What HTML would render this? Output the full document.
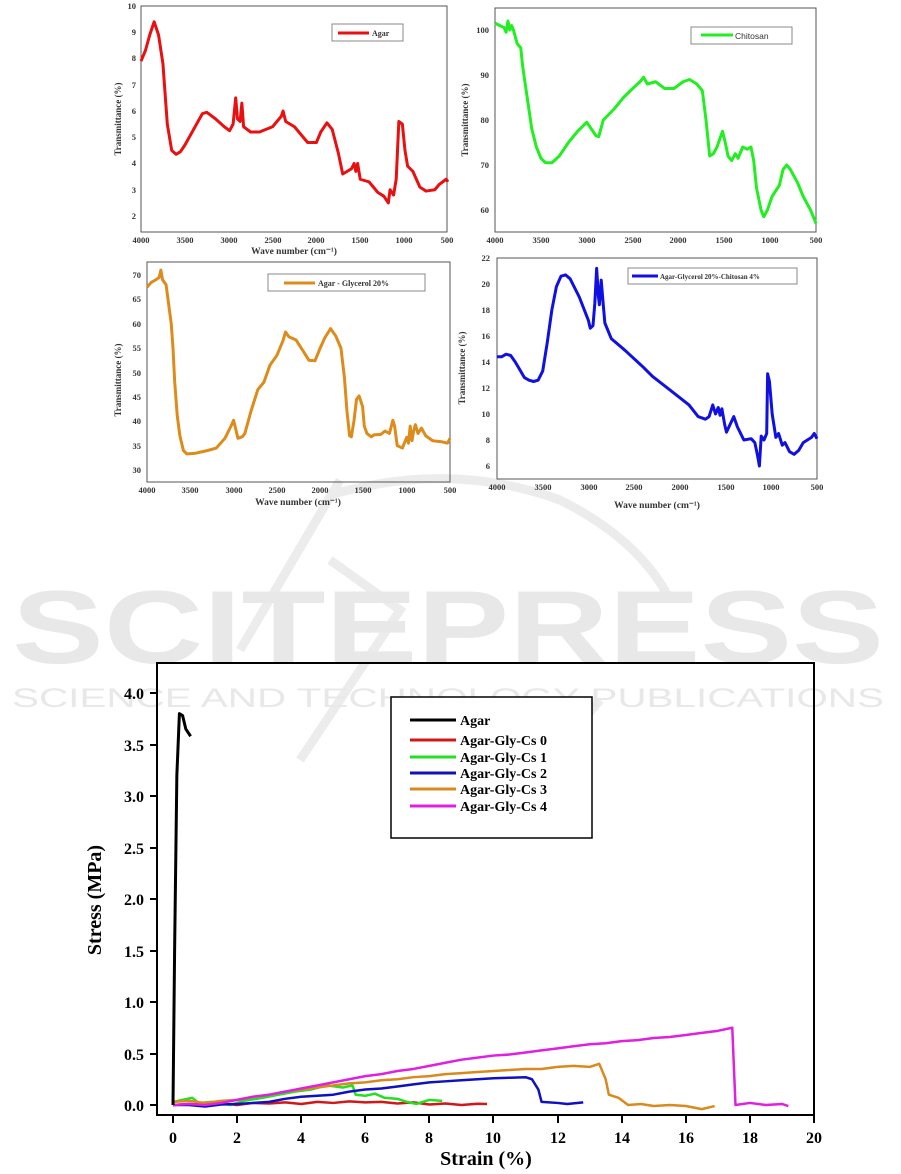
<!DOCTYPE html>
<html><head><meta charset="utf-8"><style>
html,body{margin:0;padding:0;background:#fff;}
svg{display:block;}
text{font-family:"Liberation Serif",serif;font-weight:bold;}
.s{font-family:"Liberation Sans",sans-serif;font-weight:normal;}
.c{fill:none;stroke-linejoin:round;}
</style></head><body>
<svg width="901" height="1174" viewBox="0 0 901 1174" xmlns="http://www.w3.org/2000/svg">
<!-- watermark -->
<g fill="none" stroke="#ececec" stroke-width="9">
<path d="M330 495 Q450 460 560 500 Q640 540 670 600"/>
<path d="M240 650 L340 480"/>
<path d="M300 760 L400 610 L330 560"/>
<path d="M420 760 Q520 800 600 700"/>
</g>
<text x="12" y="663" font-size="104" class="s" fill="#e8e8e8" textLength="872" lengthAdjust="spacingAndGlyphs" style="font-weight:bold">SCITEPRESS</text>
<text x="12" y="707" font-size="27" class="s" fill="#e8e8e8" textLength="872" lengthAdjust="spacingAndGlyphs">SCIENCE AND TECHNOLOGY PUBLICATIONS</text>

<!-- Panel 1 Agar -->
<rect x="141" y="6" width="306" height="226" fill="none" stroke="#555" stroke-width="1"/>
<g font-size="8.5" fill="#333" text-anchor="end">
<text x="136" y="9">10</text><text x="136" y="35">9</text><text x="136" y="61">8</text><text x="136" y="88">7</text><text x="136" y="114">6</text><text x="136" y="140">5</text><text x="136" y="166">4</text><text x="136" y="193">3</text><text x="136" y="219">2</text>
</g>
<g font-size="8.5" fill="#333" text-anchor="middle">
<text x="141" y="243">4000</text><text x="185" y="243">3500</text><text x="229" y="243">3000</text><text x="273" y="243">2500</text><text x="316" y="243">2000</text><text x="360" y="243">1500</text><text x="404" y="243">1000</text><text x="447" y="243">500</text>
</g>
<text x="294" y="254" font-size="9.5" fill="#333" text-anchor="middle">Wave number (cm⁻¹)</text>
<text transform="translate(121,119) rotate(-90)" font-size="9" fill="#333" text-anchor="middle">Transmittance (%)</text>
<rect x="332" y="24" width="71" height="17" fill="#fff" stroke="#888"/>
<line x1="338" y1="33" x2="369" y2="33" stroke="#e81010" stroke-width="3"/>
<text x="372" y="36" font-size="8" fill="#333">Agar</text>
<g transform="matrix(-0.0877,0,0,-26.25,491.8,268.5)">
<polyline class="c" stroke="#e81010" stroke-width="3" vector-effect="non-scaling-stroke" points="4000,7.9 3950,8.3 3900,8.9 3850,9.4 3800,8.9 3750,7.8 3700,5.5 3650,4.5 3600,4.35 3550,4.45 3500,4.7 3400,5.3 3300,5.9 3250,5.95 3150,5.7 3050,5.4 2990,5.25 2950,5.5 2920,6.5 2900,5.7 2870,5.6 2850,6.3 2830,5.4 2750,5.2 2650,5.2 2500,5.4 2400,5.8 2380,6.0 2350,5.6 2250,5.4 2100,4.8 2000,4.8 1950,5.2 1880,5.55 1820,5.3 1750,4.4 1700,3.6 1650,3.7 1600,3.8 1570,4.0 1550,3.7 1530,4.0 1500,3.4 1400,3.3 1300,2.9 1230,2.75 1180,2.5 1160,3.0 1120,2.8 1090,3.4 1060,5.6 1020,5.5 990,4.5 960,3.9 900,3.7 820,3.1 750,2.95 650,3.0 600,3.2 520,3.4 500,3.3"/>
</g>

<!-- Panel 2 Chitosan -->
<rect x="495" y="8" width="321" height="224" fill="none" stroke="#555" stroke-width="1"/>
<g font-size="8.5" fill="#333" text-anchor="end">
<text x="489" y="33">100</text><text x="489" y="78">90</text><text x="489" y="123">80</text><text x="489" y="168">70</text><text x="489" y="213">60</text>
</g>
<g font-size="8.5" fill="#333" text-anchor="middle">
<text x="495" y="243">4000</text><text x="541" y="243">3500</text><text x="587" y="243">3000</text><text x="633" y="243">2500</text><text x="678" y="243">2000</text><text x="724" y="243">1500</text><text x="770" y="243">1000</text><text x="816" y="243">500</text>
</g>
<text transform="translate(468,120) rotate(-90)" font-size="9" fill="#333" text-anchor="middle">Transmittance (%)</text>
<rect x="691" y="27" width="101" height="17" fill="#fff" stroke="#888"/>
<line x1="701" y1="35" x2="733" y2="35" stroke="#22ee22" stroke-width="3"/>
<text x="735" y="39" font-size="8.5" class="s" fill="#333">Chitosan</text>
<g transform="matrix(-0.0917,0,0,-4.5,861.9,480)">
<polyline class="c" stroke="#22ee22" stroke-width="3" vector-effect="non-scaling-stroke" points="4000,101.5 3950,101 3900,100.5 3880,99.5 3860,102 3840,100 3820,101 3800,100 3760,97 3720,96 3700,92 3650,85 3600,78 3550,74 3500,71.5 3450,70.5 3380,70.5 3300,72 3200,75 3100,77.5 3000,79.5 2950,78 2900,76.5 2870,76.3 2820,80 2700,82.5 2600,85 2500,87 2420,88.5 2380,89.5 2340,88 2250,88.5 2150,87 2050,87 1950,88.5 1880,89 1800,88 1740,86.5 1700,80 1660,72 1620,72.5 1580,74 1520,77.5 1490,75 1460,72 1420,71 1380,72.5 1350,71.5 1300,74 1250,73.5 1210,74 1180,71 1150,65 1100,60 1070,58.5 1030,60 980,63 900,65.5 860,69 820,70 780,69 700,66 640,63 560,60 500,57"/>
</g>

<!-- Panel 3 Agar-Glycerol -->
<rect x="147" y="262" width="303" height="220" fill="none" stroke="#555" stroke-width="1"/>
<g font-size="8.5" fill="#333" text-anchor="end">
<text x="141" y="278">70</text><text x="141" y="302">65</text><text x="141" y="327">60</text><text x="141" y="351">55</text><text x="141" y="376">50</text><text x="141" y="400">45</text><text x="141" y="424">40</text><text x="141" y="449">35</text><text x="141" y="473">30</text>
</g>
<g font-size="8.5" fill="#333" text-anchor="middle">
<text x="147" y="493">4000</text><text x="190" y="493">3500</text><text x="234" y="493">3000</text><text x="277" y="493">2500</text><text x="320" y="493">2000</text><text x="363" y="493">1500</text><text x="407" y="493">1000</text><text x="450" y="493">500</text>
</g>
<text x="298" y="505" font-size="9.5" fill="#333" text-anchor="middle">Wave number (cm⁻¹)</text>
<text transform="translate(121,380) rotate(-90)" font-size="9" fill="#333" text-anchor="middle">Transmittance (%)</text>
<rect x="268" y="274" width="157" height="17" fill="#fff" stroke="#888"/>
<line x1="284" y1="283" x2="315" y2="283" stroke="#dd8c1c" stroke-width="3"/>
<text x="318" y="286" font-size="8" fill="#333">Agar - Glycerol 20%</text>
<g transform="matrix(-0.08657,0,0,-4.875,493.3,616.25)">
<polyline class="c" stroke="#dd8c1c" stroke-width="3" vector-effect="non-scaling-stroke" points="4000,67.5 3950,68.5 3900,69 3860,69.5 3840,71 3820,69 3780,68 3750,64 3720,60 3700,55 3680,48 3650,41 3620,37 3580,34 3540,33.3 3450,33.4 3300,34 3200,34.5 3100,36.5 3030,39 3000,40.2 2970,38 2950,36.5 2900,36.8 2870,37.5 2800,42 2720,46.5 2650,48 2580,51.5 2500,53.5 2430,56.5 2400,58.3 2360,57.3 2280,56.7 2200,54.5 2130,52.5 2060,52.4 2000,55 1950,57 1880,59 1820,57.5 1760,55 1720,49 1690,42 1660,37 1640,36.8 1610,40 1580,44.5 1550,45.2 1510,43 1490,39 1460,37.5 1410,36.8 1380,37.2 1300,37.3 1250,38 1200,37.5 1160,40.2 1140,39 1110,35 1050,34.5 1000,36.7 980,35.5 960,39 940,36 920,38 900,39.3 870,37.5 830,38.6 780,37 700,36 600,35.8 530,35.5 500,36.5"/>
</g>

<!-- Panel 4 Agar-Gly-Chitosan -->
<rect x="497" y="258" width="320" height="221" fill="none" stroke="#555" stroke-width="1"/>
<g font-size="8.5" fill="#333" text-anchor="end">
<text x="490" y="261">22</text><text x="490" y="287">20</text><text x="490" y="313">18</text><text x="490" y="339">16</text><text x="490" y="365">14</text><text x="490" y="391">12</text><text x="490" y="417">10</text><text x="490" y="443">8</text><text x="490" y="469">6</text>
</g>
<g font-size="8.5" fill="#333" text-anchor="middle">
<text x="497" y="490">4000</text><text x="543" y="490">3500</text><text x="589" y="490">3000</text><text x="634" y="490">2500</text><text x="680" y="490">2000</text><text x="726" y="490">1500</text><text x="771" y="490">1000</text><text x="817" y="490">500</text>
</g>
<text x="657" y="508" font-size="9.5" fill="#333" text-anchor="middle">Wave number (cm⁻¹)</text>
<text transform="translate(465,368) rotate(-90)" font-size="9" fill="#333" text-anchor="middle">Transmittance (%)</text>
<rect x="628" y="268" width="169" height="16" fill="#fff" stroke="#888"/>
<line x1="632" y1="276" x2="658" y2="276" stroke="#1010e0" stroke-width="3"/>
<text x="660" y="279" font-size="7" fill="#333">Agar-Glycerol 20%-Chitosan 4%</text>
<g transform="matrix(-0.09143,0,0,-13,862.7,544)">
<polyline class="c" stroke="#1010e0" stroke-width="3" vector-effect="non-scaling-stroke" points="4000,14.4 3950,14.4 3900,14.6 3850,14.5 3800,14 3750,13.4 3700,12.8 3650,12.6 3600,12.5 3550,12.6 3500,13.3 3450,15.5 3400,18 3350,19.8 3300,20.6 3250,20.7 3200,20.4 3100,19 3000,17.2 2980,16.6 2950,16.8 2930,18.5 2910,21.2 2890,19 2880,18.4 2860,20.3 2840,18.6 2820,17 2750,15.8 2600,14.9 2400,13.6 2300,12.9 2100,11.8 1900,10.7 1800,9.8 1720,9.6 1680,9.8 1640,10.7 1610,10 1580,10.5 1560,9.9 1540,10.4 1510,9.2 1490,8.6 1450,9.2 1410,9.8 1370,9 1300,8 1220,8.1 1180,7.8 1150,6.8 1130,6.0 1110,8.3 1080,8 1050,8.5 1040,13.1 1020,12.5 990,10 950,8.2 920,8.5 880,7.6 850,7.8 800,7.1 750,6.9 700,7.2 650,7.8 560,8.2 530,8.5 500,8.1"/>
</g>

<!-- Bottom stress-strain chart -->
<rect x="157" y="663" width="657" height="452" fill="none" stroke="#000" stroke-width="2"/>
<g stroke="#000" stroke-width="2">
<line x1="150" y1="693" x2="157" y2="693"/><line x1="150" y1="745" x2="157" y2="745"/><line x1="150" y1="796" x2="157" y2="796"/><line x1="150" y1="848" x2="157" y2="848"/><line x1="150" y1="899" x2="157" y2="899"/><line x1="150" y1="951" x2="157" y2="951"/><line x1="150" y1="1002" x2="157" y2="1002"/><line x1="150" y1="1054" x2="157" y2="1054"/><line x1="150" y1="1105" x2="157" y2="1105"/>
<line x1="173" y1="1115" x2="173" y2="1123"/><line x1="237" y1="1115" x2="237" y2="1123"/><line x1="301" y1="1115" x2="301" y2="1123"/><line x1="365" y1="1115" x2="365" y2="1123"/><line x1="429" y1="1115" x2="429" y2="1123"/><line x1="493" y1="1115" x2="493" y2="1123"/><line x1="558" y1="1115" x2="558" y2="1123"/><line x1="622" y1="1115" x2="622" y2="1123"/><line x1="686" y1="1115" x2="686" y2="1123"/><line x1="750" y1="1115" x2="750" y2="1123"/><line x1="814" y1="1115" x2="814" y2="1123"/>
</g>
<g font-size="16" fill="#000" text-anchor="end">
<text x="144" y="699">4.0</text><text x="144" y="751">3.5</text><text x="144" y="802">3.0</text><text x="144" y="854">2.5</text><text x="144" y="905">2.0</text><text x="144" y="957">1.5</text><text x="144" y="1008">1.0</text><text x="144" y="1060">0.5</text><text x="144" y="1111">0.0</text>
</g>
<g font-size="16" fill="#000" text-anchor="middle">
<text x="173" y="1143">0</text><text x="237" y="1143">2</text><text x="301" y="1143">4</text><text x="365" y="1143">6</text><text x="429" y="1143">8</text><text x="493" y="1143">10</text><text x="558" y="1143">12</text><text x="622" y="1143">14</text><text x="686" y="1143">16</text><text x="750" y="1143">18</text><text x="814" y="1143">20</text>
</g>
<text x="486" y="1165" font-size="20" fill="#000" text-anchor="middle">Strain (%)</text>
<text transform="translate(101,900) rotate(-90)" font-size="20" fill="#000" text-anchor="middle">Stress (MPa)</text>
<g transform="matrix(32.05,0,0,-103,173,1105)">
<polyline class="c" stroke="#d01818" stroke-width="2.5" vector-effect="non-scaling-stroke" points="0,0 0.5,0.01 1,0.005 1.5,0.015 2,0 2.5,0.02 3,0.015 3.5,0.025 4,0.01 4.5,0.03 5,0.02 5.5,0.035 6,0.025 6.5,0.03 7,0.015 7.5,0.025 8,0.005 8.5,0.015 9,0 9.5,0.012 9.8,0.01"/>
<polyline class="c" stroke="#22e022" stroke-width="2.5" vector-effect="non-scaling-stroke" points="0,0.03 0.3,0.05 0.6,0.07 0.8,0.02 1.2,0.03 1.8,0 2.2,0.04 2.8,0.07 3.3,0.1 3.8,0.13 4.3,0.15 4.8,0.19 5.3,0.17 5.6,0.19 5.7,0.1 6,0.09 6.3,0.11 6.6,0.07 7,0.06 7.3,0.03 7.6,0.01 8,0.05 8.4,0.04"/>
<polyline class="c" stroke="#1010c0" stroke-width="2.5" vector-effect="non-scaling-stroke" points="0,0 0.5,0 1,-0.015 1.5,0.005 2,0.01 2.5,0.02 3,0.03 3.5,0.06 4,0.08 4.5,0.09 5,0.1 5.5,0.13 6,0.15 6.5,0.16 7,0.18 7.5,0.2 8,0.22 8.5,0.23 9,0.24 9.5,0.25 10,0.26 10.5,0.265 11,0.27 11.2,0.25 11.4,0.15 11.5,0.03 12,0.02 12.3,0.01 12.8,0.025"/>
<polyline class="c" stroke="#d98a1e" stroke-width="2.5" vector-effect="non-scaling-stroke" points="0,0.03 0.5,0.04 1,0.02 1.5,0.04 2,0.05 2.5,0.08 3,0.1 3.5,0.13 4,0.15 4.5,0.17 5,0.19 5.5,0.21 6,0.22 6.5,0.24 7,0.25 7.5,0.27 8,0.28 8.5,0.3 9,0.31 9.5,0.32 10,0.33 10.5,0.34 11,0.35 11.5,0.35 12,0.37 12.5,0.38 13,0.37 13.3,0.4 13.5,0.25 13.6,0.1 13.9,0.07 14.2,0 14.6,0.01 15,-0.01 15.5,0 16,-0.01 16.5,-0.04 16.9,-0.01"/>
<polyline class="c" stroke="#e020e0" stroke-width="2.5" vector-effect="non-scaling-stroke" points="0,0 0.5,0.01 1,0 1.5,0.02 2,0.05 2.5,0.08 3,0.1 3.5,0.13 4,0.16 4.5,0.19 5,0.22 5.5,0.25 6,0.28 6.5,0.3 7,0.33 7.5,0.35 8,0.38 8.5,0.41 9,0.44 9.5,0.46 10,0.48 10.5,0.49 11,0.51 11.5,0.53 12,0.55 12.5,0.57 13,0.59 13.5,0.6 14,0.62 14.5,0.63 15,0.65 15.5,0.66 16,0.68 16.5,0.7 17,0.72 17.45,0.75 17.55,0 18,0.02 18.5,0 19,0.01 19.2,-0.01"/>
<polyline class="c" stroke="#000" stroke-width="3" vector-effect="non-scaling-stroke" points="0,0 0.05,1.5 0.12,3.2 0.2,3.8 0.3,3.78 0.4,3.65 0.55,3.58"/>
</g>
<!-- legend -->
<rect x="391" y="697" width="201" height="141" fill="#fff" stroke="#000" stroke-width="1.5"/>
<g stroke-width="3">
<line x1="410" y1="720" x2="456" y2="720" stroke="#000"/>
<line x1="410" y1="740" x2="456" y2="740" stroke="#d01818"/>
<line x1="410" y1="757" x2="456" y2="757" stroke="#22e022"/>
<line x1="410" y1="773" x2="456" y2="773" stroke="#1010c0"/>
<line x1="410" y1="789" x2="456" y2="789" stroke="#d98a1e"/>
<line x1="410" y1="806" x2="456" y2="806" stroke="#e020e0"/>
</g>
<g font-size="14" fill="#000">
<text x="460" y="725">Agar</text>
<text x="460" y="745">Agar-Gly-Cs 0</text>
<text x="460" y="762">Agar-Gly-Cs 1</text>
<text x="460" y="778">Agar-Gly-Cs 2</text>
<text x="460" y="794">Agar-Gly-Cs 3</text>
<text x="460" y="811">Agar-Gly-Cs 4</text>
</g>
</svg>
</body></html>
